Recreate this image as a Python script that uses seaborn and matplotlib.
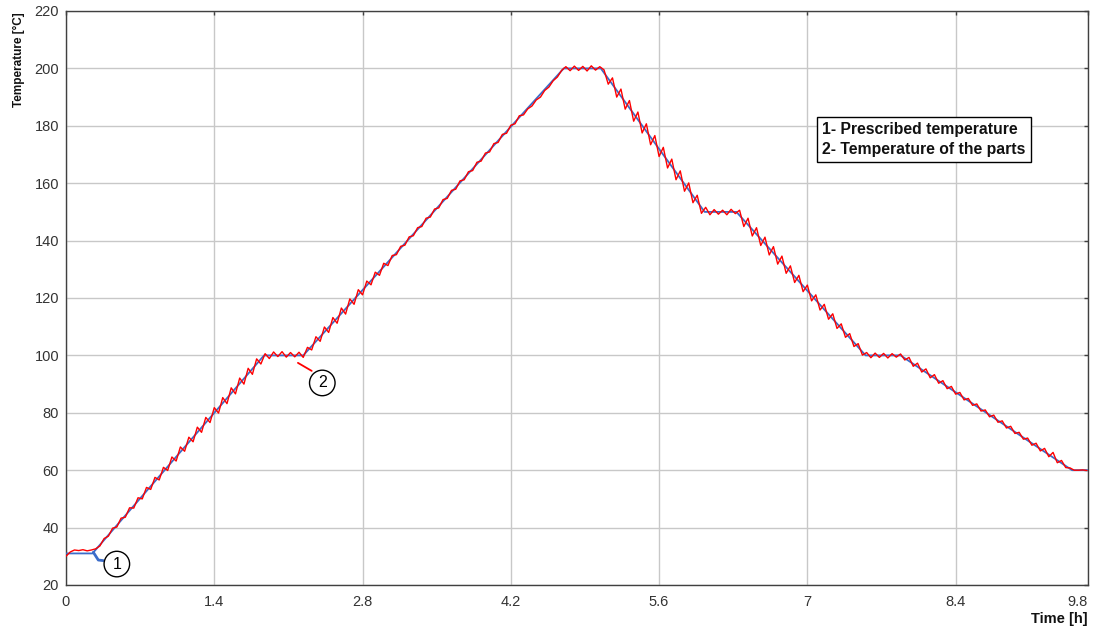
import numpy as np
import pandas as pd
import matplotlib
matplotlib.use("Agg")
import matplotlib.pyplot as plt
import seaborn as sns

# ---------------- data ----------------
blue_time = [0, 0.25, 1.87, 2.24, 4.70, 5.05, 6.03, 6.33, 7.55, 7.88, 9.50, 9.65]
blue_temp = [31, 31, 100, 100, 200, 200, 150, 150, 100, 100, 60, 60]

red_step = 0.04  # h, sampling interval of the measured part temperature
red_temp = [
    # 0.00 - 0.24
    30.0, 31.5, 32.2, 32.0, 32.3, 31.9, 32.2,
    # 0.28 - 1.84 heating to 100
    32.6, 33.6, 36.2, 37.0, 39.8, 40.2, 43.3, 43.6, 46.9, 46.8,
    50.4, 50.0, 54.0, 53.3, 57.5, 56.6, 61.0, 59.9, 64.6, 63.2,
    68.1, 66.6, 71.5, 69.9, 75.0, 73.2, 78.4, 76.6, 81.8, 79.9,
    85.3, 83.2, 88.7, 86.6, 92.1, 90.0, 95.5, 93.4, 98.8, 97.0,
    # 1.88 - 2.24 hold 100
    100.6, 98.9, 101.2, 99.6, 101.3, 99.4, 101.0, 99.5, 101.1, 99.3,
    # 2.28 - 4.68 heating to 200
    102.8, 101.9, 106.5, 104.9, 109.9, 108.0, 113.2, 111.2, 116.5, 114.4,
    119.7, 117.8, 122.9, 121.1, 125.9, 124.6, 129.0, 127.9, 132.1, 131.3,
    134.8, 135.1, 138.0, 138.4, 141.3, 141.7, 144.5, 144.9, 147.8, 148.2,
    151.0, 151.4, 154.3, 154.7, 157.5, 157.9, 160.8, 161.2, 164.0, 164.4,
    167.3, 167.7, 170.5, 170.9, 173.8, 174.2, 177.0, 177.4, 180.2, 180.7,
    183.5, 183.8, 185.9, 186.9, 189.0, 190.0, 192.3, 193.5, 195.7, 197.0, 199.3,
    # 4.72 - 5.04 hold 200
    200.6, 199.2, 200.8, 199.3, 200.7, 199.1, 200.9, 199.4, 200.6,
    # 5.08 - 6.04 cooling to 150
    199.5, 194.5, 196.7, 190.0, 192.8, 185.8, 188.8, 181.6, 184.8, 177.5,
    180.7, 173.4, 176.6, 169.3, 172.5, 165.3, 168.4, 161.2, 164.3, 157.2,
    160.1, 153.2, 155.8, 149.5, 151.6,
    # 6.08 - 6.32 hold 150
    149.0, 150.8, 149.2, 150.6, 149.0, 150.9, 149.4,
    # 6.36 - 7.56 cooling to 100
    150.6, 144.9, 147.8, 141.6, 144.5, 138.3, 141.2, 135.0, 137.9, 131.8,
    134.6, 128.6, 131.2, 125.4, 127.9, 122.2, 124.5, 119.0, 121.1, 115.8,
    117.8, 112.6, 114.5, 109.4, 111.0, 106.3, 107.6, 103.1, 104.1, 100.1, 101.0,
    # 7.60 - 7.88 hold 100
    99.2, 100.8, 99.3, 100.7, 99.1, 100.6, 99.4, 100.5,
    # 7.92 - 9.64 cooling to 60
    98.4, 99.3, 96.2, 97.3, 94.2, 95.3, 92.2, 93.3, 90.3, 91.2,
    88.4, 89.2, 86.5, 87.1, 84.5, 85.0, 82.6, 83.1, 80.6, 81.0,
    78.6, 79.2, 76.7, 77.2, 74.7, 75.3, 72.8, 73.2, 70.8, 71.2,
    68.7, 69.4, 66.7, 67.6, 64.7, 66.2, 62.6, 63.4, 60.9, 60.8,
    60.0, 60.0, 60.1, 59.9,
]
red_time = np.arange(len(red_temp)) * red_step

y_ticks = [20, 40, 60, 80, 100, 120, 140, 160, 180, 200, 220]
x_ticks = [0, 1.4, 2.8, 4.2, 5.6, 7.0, 8.4, 9.65]
x_ticklabels = ["0", "1.4", "2.8", "4.2", "5.6", "7", "8.4", "9.8"]

legend_lines = ["1- Prescribed temperature", "2- Temperature of the parts"]

# annotation anchors (data coordinates)
lead1_x, lead1_y = [0.258, 0.305, 0.352], [31.4, 28.7, 28.5]
circ1 = (0.48, 27.3)
lead2_x, lead2_y = [2.19, 2.32], [97.4, 94.6]
circ2 = (2.42, 90.4)

BLUE = "#3b6cc9"
RED = "#ff0000"

# ---------------- plot ----------------
sns.set_theme(style="white")
plt.rcParams["font.family"] = ["Liberation Sans", "DejaVu Sans"]

fig = plt.figure(figsize=(10.95, 6.28), dpi=100)
ax = fig.add_axes([66 / 1095, 1 - 585 / 628, (1088 - 66) / 1095, (585 - 11) / 628])

df_b = pd.DataFrame({"t": blue_time, "T": blue_temp})
df_r = pd.DataFrame({"t": red_time, "T": red_temp})
sns.lineplot(data=df_b, x="t", y="T", color=BLUE, lw=1.3, ax=ax,
             estimator=None, sort=False, zorder=3)
sns.lineplot(data=df_r, x="t", y="T", color=RED, lw=1.0, ax=ax,
             estimator=None, sort=False, zorder=4)

ax.set_xlim(0, 9.65)
ax.set_ylim(20, 220)
ax.set_xticks(x_ticks)
ax.set_xticklabels(x_ticklabels)
ax.set_yticks(y_ticks)
ax.grid(True, color="#c8c8c8", lw=1)
ax.set_axisbelow(True)
for s in ax.spines.values():
    s.set_color("#404040")
    s.set_linewidth(1)
ax.tick_params(direction="in", length=3, width=1, color="#404040",
               top=True, right=True, labelsize=10.5, labelcolor="#333333")
ax.tick_params(axis="x", pad=7)
ax.tick_params(axis="y", pad=5)
ax.get_xticklabels()[-1].set_horizontalalignment("right")

ax.set_xlabel("Time [h]", loc="right", fontweight="bold", fontsize=10.5, color="#111111")
ax.xaxis.set_label_coords(1.0, -0.047)
ax.set_ylabel("Temperature [°C]", loc="top", fontweight="bold", fontsize=8.5, color="#111111")
ax.yaxis.set_label_coords(-0.040, 0.997)

# legend-like text box
ax.text(0.740, 0.807, "\n".join(legend_lines), transform=ax.transAxes,
        ha="left", va="top", fontsize=11.3, fontweight="bold", linespacing=1.45,
        color="#111111", zorder=6,
        bbox=dict(boxstyle="square,pad=0.32", fc="white", ec="black", lw=1))

# callouts
ax.plot(lead1_x, lead1_y, color=BLUE, lw=2, zorder=5)
ax.plot(lead2_x, lead2_y, color=RED, lw=1.3, zorder=5)
for (cx, cy), lab in [(circ1, "1"), (circ2, "2")]:
    ax.text(cx, cy, lab, ha="center", va="center", fontsize=11.5, color="black",
            zorder=6,
            bbox=dict(boxstyle="circle,pad=0.33", fc="white", ec="black", lw=1))

fig.savefig("out.png", dpi=100)
